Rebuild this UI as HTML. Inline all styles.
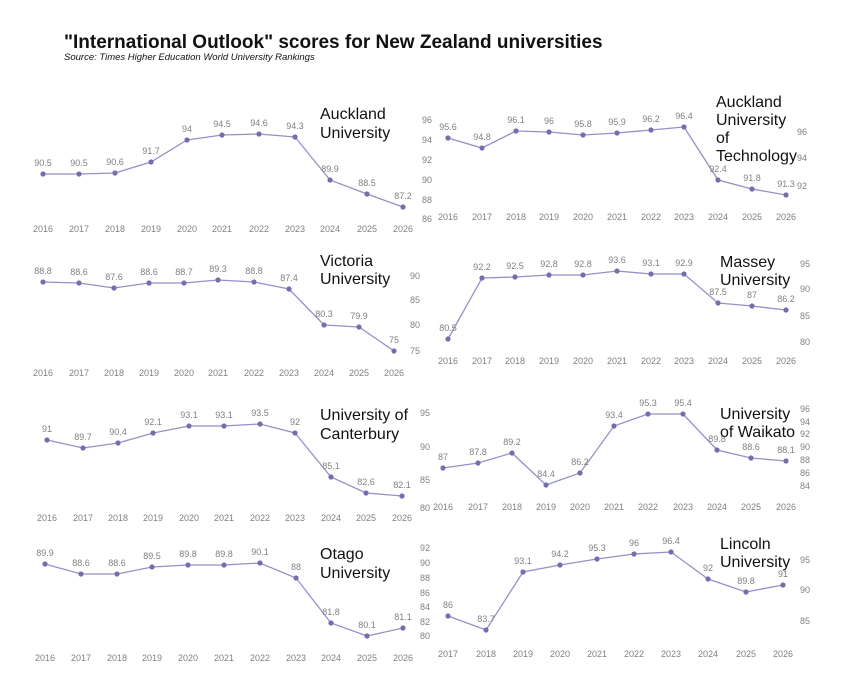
<!DOCTYPE html>
<html><head><meta charset="utf-8"><style>
body{margin:0;background:#fff;width:844px;height:673px;overflow:hidden}
svg{display:block}
.t{font-family:"Liberation Sans",sans-serif;font-size:9px;fill:#808080}
.n{font-family:"Liberation Sans",sans-serif;font-size:16px;fill:#111}
</style></head><body>
<svg id="s" width="844" height="673" xmlns="http://www.w3.org/2000/svg">
<text x="64" y="48" font-family="Liberation Sans,sans-serif" font-weight="bold" font-size="19" fill="#111">"International Outlook" scores for New Zealand universities</text>
<text x="64" y="60" font-family="Liberation Sans,sans-serif" font-style="italic" font-size="9.5" fill="#111">Source: Times Higher Education World University Rankings</text>
</svg>
<script>
var P=[
{xs:[43,79,115,151,187,222,259,295,330,367,403],ys:[174,174,173,162,140,135,134,137,180,194,207],v:["90.5","90.5","90.6","91.7","94","94.5","94.6","94.3","89.9","88.5","87.2"],yy:229,y0:2016,title:["Auckland","University"],tx:320,ty:[113,132],rt:{x:422,t:[[96,120],[94,140],[92,160],[90,180],[88,200],[86,219]]}},
{xs:[448,482,516,549,583,617,651,684,718,752,786],ys:[138,148,131,132,135,133,130,127,180,189,195],v:["95.6","94.8","96.1","96","95.8","95.9","96.2","96.4","92.4","91.8","91.3"],yy:217,y0:2016,title:["Auckland","University","of","Technology"],tx:716,ty:[101,119,137,155],rt:{x:797,t:[[96,132],[94,158],[92,186]]}},
{xs:[43,79,114,149,184,218,254,289,324,359,394],ys:[282,283,288,283,283,280,282,289,325,327,351],v:["88.8","88.6","87.6","88.6","88.7","89.3","88.8","87.4","80.3","79.9","75"],yy:373,y0:2016,title:["Victoria","University"],tx:320,ty:[260,278],rt:{x:410,t:[[90,276],[85,300],[80,325],[75,351]]}},
{xs:[448,482,515,549,583,617,651,684,718,752,786],ys:[339,278,277,275,275,271,274,274,303,306,310],v:["80.5","92.2","92.5","92.8","92.8","93.6","93.1","92.9","87.5","87","86.2"],yy:361,y0:2016,title:["Massey","University"],tx:720,ty:[261,279],rt:{x:800,t:[[95,264],[90,289],[85,316],[80,342]]}},
{xs:[47,83,118,153,189,224,260,295,331,366,402],ys:[440,448,443,433,426,426,424,433,477,493,496],v:["91","89.7","90.4","92.1","93.1","93.1","93.5","92","85.1","82.6","82.1"],yy:518,y0:2016,title:["University of","Canterbury"],tx:320,ty:[414,433],rt:{x:420,t:[[95,413],[90,447],[85,480],[80,508]]}},
{xs:[443,478,512,546,580,614,648,683,717,751,786],ys:[468,463,453,485,473,426,414,414,450,458,461],v:["87","87.8","89.2","84.4","86.2","93.4","95.3","95.4","89.8","88.6","88.1"],yy:507,y0:2016,title:["University","of Waikato"],tx:720,ty:[413,431],rt:{x:800,t:[[96,409],[94,422],[92,434],[90,447],[88,460],[86,473],[84,486]]}},
{xs:[45,81,117,152,188,224,260,296,331,367,403],ys:[564,574,574,567,565,565,563,578,623,636,628],v:["89.9","88.6","88.6","89.5","89.8","89.8","90.1","88","81.8","80.1","81.1"],yy:658,y0:2016,title:["Otago","University"],tx:320,ty:[553,572],rt:{x:420,t:[[92,548],[90,563],[88,578],[86,593],[84,607],[82,622],[80,636]]}},
{xs:[448,486,523,560,597,634,671,708,746,783],ys:[616,630,572,565,559,554,552,579,592,585],v:["86","83.7","93.1","94.2","95.3","96","96.4","92","89.8","91"],yy:654,y0:2017,title:["Lincoln","University"],tx:720,ty:[543,561],rt:{x:800,t:[[95,560],[90,590],[85,621]]}}
];
var s='';
P.forEach(function(p){
 var pts=p.xs.map(function(x,i){return x+','+p.ys[i]}).join(' ');
 s+='<polyline points="'+pts+'" fill="none" stroke="#9591c8" stroke-width="1.3"/>';
 p.xs.forEach(function(x,i){
  s+='<circle cx="'+x+'" cy="'+p.ys[i]+'" r="2.6" fill="#736fae"/>';
  s+='<text class="t" x="'+x+'" y="'+(p.ys[i]-8)+'" text-anchor="middle">'+p.v[i]+'</text>';
  s+='<text class="t" x="'+x+'" y="'+(p.yy+3)+'" text-anchor="middle">'+(p.y0+i)+'</text>';
 });
 p.rt.t.forEach(function(t){s+='<text class="t" x="'+p.rt.x+'" y="'+(t[1]+3)+'">'+t[0]+'</text>';});
 p.title.forEach(function(l,i){s+='<text class="n" x="'+p.tx+'" y="'+(p.ty[i]+6)+'">'+l+'</text>';});
});
document.getElementById('s').insertAdjacentHTML('beforeend',s);
</script>
</body></html>
